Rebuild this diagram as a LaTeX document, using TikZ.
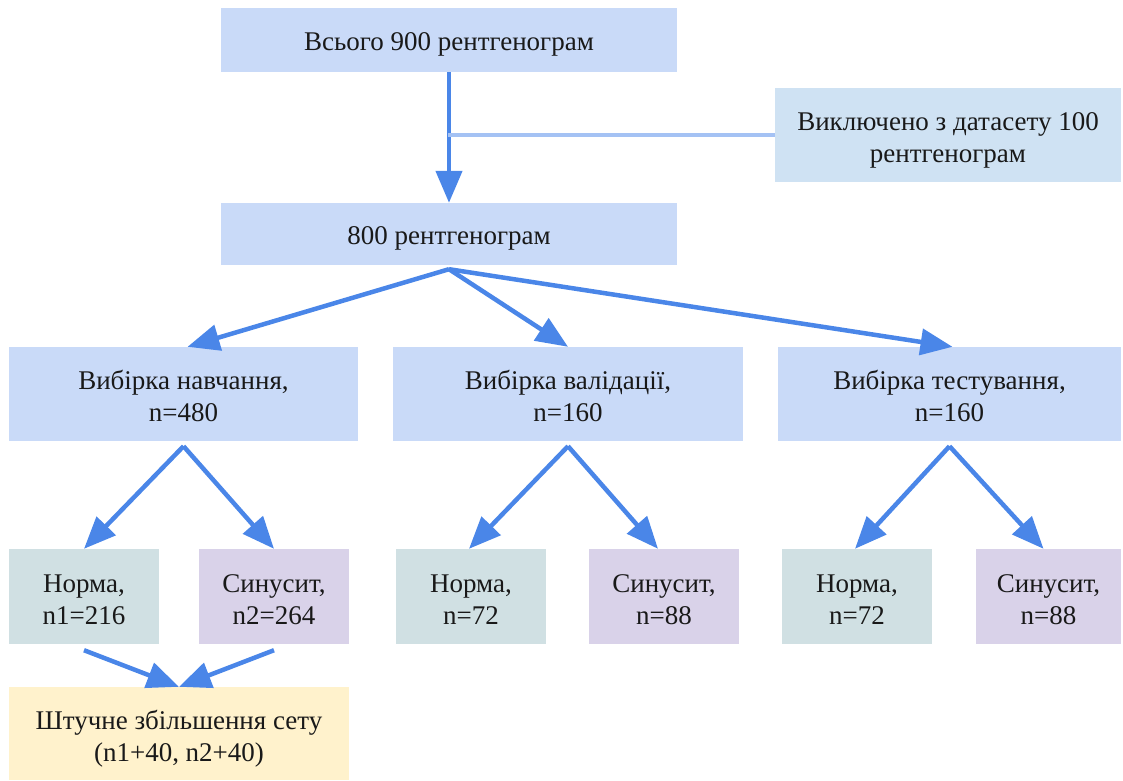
\documentclass[tikz,border=0pt]{standalone}
\usepackage{fontspec}
\setmainfont{Liberation Serif}
\usetikzlibrary{arrows.meta}
\definecolor{boxblue}{HTML}{C9DAF8}
\definecolor{exblue}{HTML}{CFE2F3}
\definecolor{normc}{HTML}{D0E0E3}
\definecolor{sinc}{HTML}{D9D2E9}
\definecolor{augc}{HTML}{FFF2CC}
\definecolor{arrc}{HTML}{4A86E8}
\definecolor{linec}{HTML}{A4C2F4}
\tikzset{
  box/.style={rectangle, inner sep=0pt, align=center, font=\fontsize{27}{32}\selectfont, text=black!90},
  oneline/.style={box, text height=26.5pt, text depth=5.9pt},
  twoline/.style={box, text height=55.6pt, text depth=0.5pt},
  flow/.style={draw=arrc, line width=4.5pt, -{Triangle[length=32pt,width=26pt]}},
  joinline/.style={draw=linec, line width=4pt}
}
\begin{document}
\begin{tikzpicture}[x=1pt,y=-1pt]
\useasboundingbox (0,0) rectangle (1123,780);
\node[oneline, fill=boxblue, minimum width=456pt, minimum height=64pt] (top) at (449,40) {Всього 900 рентгенограм};
\node[twoline, fill=exblue, minimum width=346pt, minimum height=94pt] (excl) at (948,135) {Виключено з датасету 100\\рентгенограм};
\node[oneline, fill=boxblue, minimum width=456pt, minimum height=62pt] (mid) at (449,234) {800 рентгенограм};
\node[twoline, fill=boxblue, minimum width=349pt, minimum height=94pt] (train) at (183.5,394) {Вибірка навчання,\\n=480};
\node[twoline, fill=boxblue, minimum width=350pt, minimum height=94pt] (val) at (568,394) {Вибірка валідації,\\n=160};
\node[twoline, fill=boxblue, minimum width=343pt, minimum height=94pt] (test) at (949.5,394) {Вибірка тестування,\\n=160};
\node[twoline, fill=normc, minimum width=150pt, minimum height=95pt] (n1) at (84,596.5) {Норма,\\n1=216};
\node[twoline, fill=sinc, minimum width=150pt, minimum height=95pt] (s1) at (274,596.5) {Синусит,\\n2=264};
\node[twoline, fill=normc, minimum width=150pt, minimum height=95pt] (n2) at (471,596.5) {Норма,\\n=72};
\node[twoline, fill=sinc, minimum width=150pt, minimum height=95pt] (s2) at (664,596.5) {Синусит,\\n=88};
\node[twoline, fill=normc, minimum width=150pt, minimum height=95pt] (n3) at (857,596.5) {Норма,\\n=72};
\node[twoline, fill=sinc, minimum width=145pt, minimum height=95pt] (s3) at (1048.5,596.5) {Синусит,\\n=88};
\node[twoline, fill=augc, minimum width=340pt, minimum height=93pt] (aug) at (179,733.5) {Штучне збільшення сету\\(n1+40, n2+40)};
% connectors
\draw[flow] (top.south) -- (mid.north);
\draw[joinline] (excl.west) -- ([xshift=-1pt]top.south |- excl.west);
\draw[flow] ([yshift=-4pt]mid.south) -- ([xshift=4pt]train.north);
\draw[flow] ([yshift=-4pt]mid.south) -- (val.north);
\draw[flow] ([yshift=-4pt]mid.south) -- ([xshift=3pt]test.north);
\draw[flow] ([yshift=-5pt]train.south) -- (n1.north);
\draw[flow] ([yshift=-5pt]train.south) -- (s1.north);
\draw[flow] ([yshift=-5pt]val.south) -- ([xshift=-2pt]n2.north);
\draw[flow] ([yshift=-5pt]val.south) -- ([xshift=-6pt]s2.north);
\draw[flow] ([yshift=-5pt]test.south) -- ([xshift=-2pt]n3.north);
\draw[flow] ([yshift=-5pt]test.south) -- ([xshift=-5pt]s3.north);
\draw[flow] ([yshift=-6pt]n1.south) -- (aug.north);
\draw[flow] ([yshift=-6pt]s1.south) -- (aug.north);
\end{tikzpicture}
\end{document}
